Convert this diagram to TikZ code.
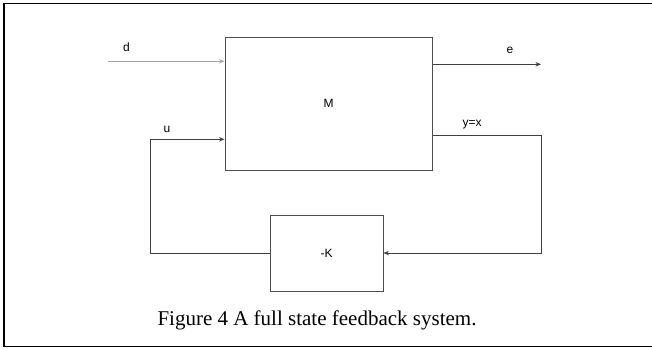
\documentclass[tikz,border=0pt]{standalone}
\usepackage{fontspec}
\setmainfont{Liberation Serif}
\setsansfont{Liberation Sans}
\usetikzlibrary{arrows.meta}
\begin{document}
\begin{tikzpicture}[x=1pt,y=-1pt,
  blk/.style={draw=black!70, line width=1pt, inner sep=0pt, font=\sffamily\fontsize{12}{14}\selectfont},
  wire/.style={draw=black!75, line width=1pt},
  arr/.style={-{Stealth[length=5.5pt,width=4.5pt]}},
  lbl/.style={font=\sffamily\fontsize{12}{14}\selectfont, inner sep=0pt},
  frame/.style={draw=black, line width=1.6pt}]
\useasboundingbox (0,0) rectangle (652,348);
% outer frame (top, left, bottom only)
\coordinate (f1) at (652,3.5);
\coordinate (f2) at (4,3.5);
\coordinate (f3) at (4,346.5);
\coordinate (f4) at (652,346.5);
\draw[frame] (f1) -- (f2) -- (f3) -- (f4);
% blocks
\node[blk, minimum width=207pt, minimum height=132.5pt] (M) at (328.5,103.75) {M};
\node[blk, minimum width=113pt, minimum height=76pt] (K) at (326.5,253) {-K};
% coordinates
\coordinate (din) at (108,61.3);
\coordinate (eout) at (541,64.3);
\coordinate (yr) at (541,135.7);
\coordinate (ul) at (150,139.3);
% connectors
\draw[wire, draw=black!35, arr] (din) -- (din -| M.west);
\draw[wire, arr] (eout -| M.east) -- (eout);
\draw[wire, arr] (yr -| M.east) -- (yr) |- (K.east);
\draw[wire, arr] (K.west) -| (ul) -- (ul -| M.west);
% labels
\node[lbl] (ld) at (126.5,47) {d};
\node[lbl] (le) at (510,50) {e};
\node[lbl] (lu) at (167,129) {u};
\node[lbl] (ly) at (472,125) {y=x};
% caption
\node[font=\fontsize{21}{24}\selectfont, inner sep=0pt] (cap) at (317,320) {Figure 4 A full state feedback system.};
\end{tikzpicture}
\end{document}
